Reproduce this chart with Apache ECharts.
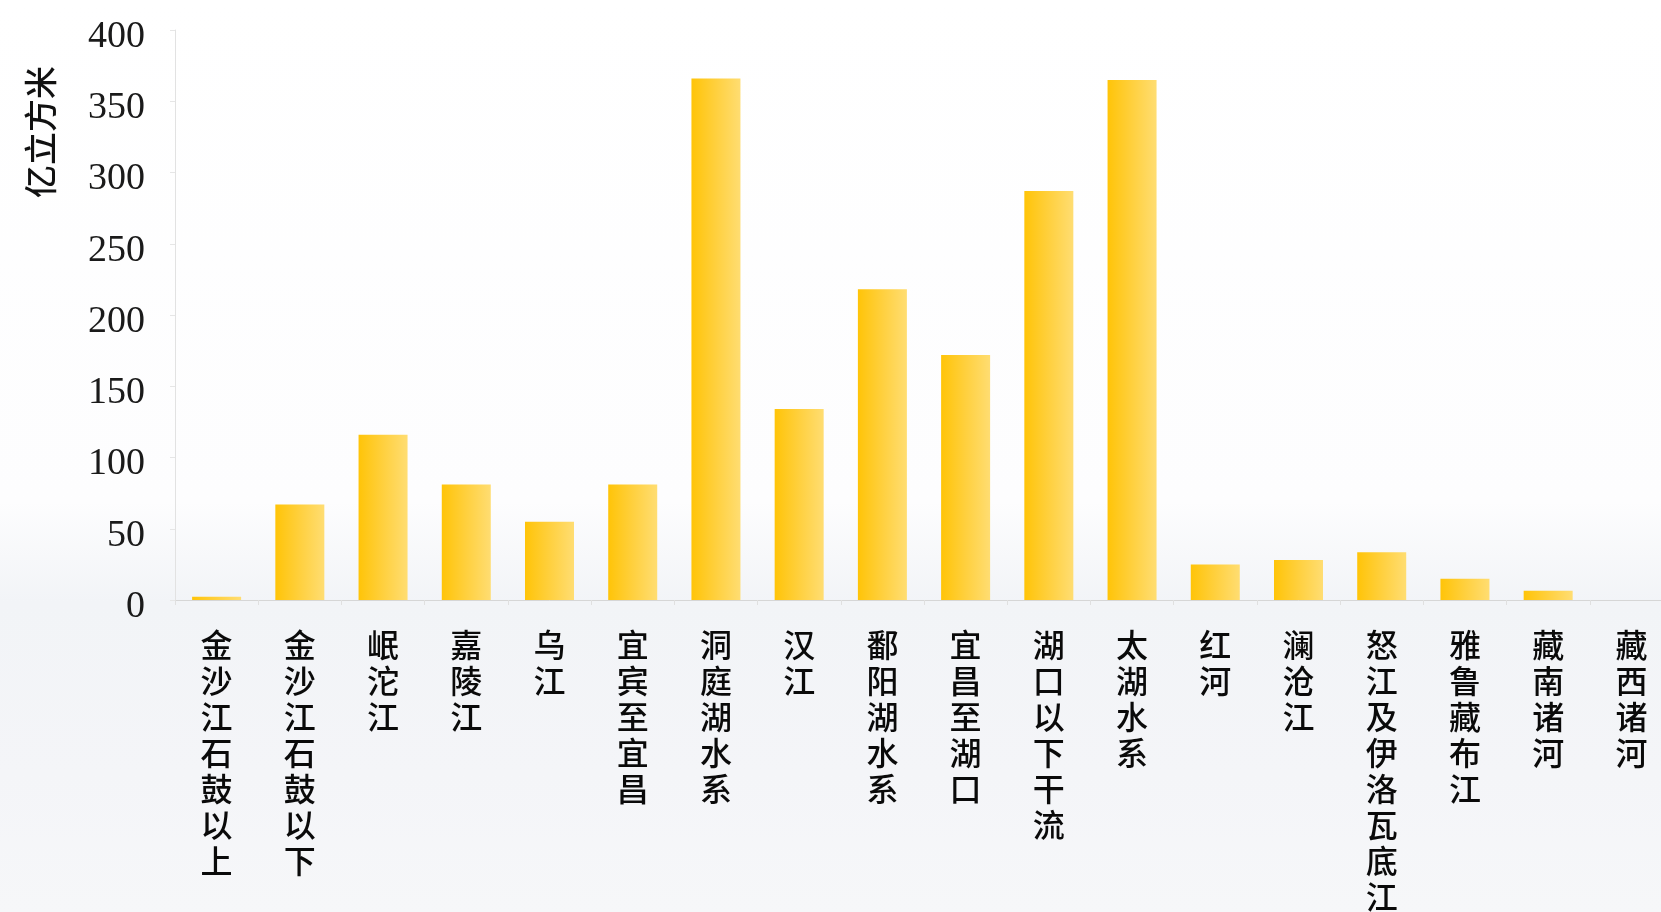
<!DOCTYPE html>
<html>
<head>
<meta charset="utf-8">
<script src="https://cdn.jsdelivr.net/npm/echarts@6/dist/echarts.min.js"></script>
<style>
  html, body { margin: 0; padding: 0; overflow: hidden; }
  #chart { width: 1673px; height: 912px; }
</style>
</head>
<body>
<div id="chart"></div>
<script>
// 流域分区（长江及西南诸河）
const basins = [
  '金沙江石鼓以上', '金沙江石鼓以下', '岷沱江', '嘉陵江', '乌江', '宜宾至宜昌',
  '洞庭湖水系', '汉江', '鄱阳湖水系', '宜昌至湖口', '湖口以下干流', '太湖水系',
  '红河', '澜沧江', '怒江及伊洛瓦底江', '雅鲁藏布江', '藏南诸河', '藏西诸河'
];
// 水量（亿立方米）
const volumes = [2.3, 67, 116, 81, 55, 81, 366, 134, 218, 172, 287, 365, 25, 28, 33.5, 15, 6.5, 0];
// 纵轴刻度
const yTicks = [0, 50, 100, 150, 200, 250, 300, 350, 400];
const yUnit = '亿立方米';

const chart = echarts.init(document.getElementById('chart'), null, { renderer: 'canvas' });

const cjk = "'Noto Sans CJK SC', 'Noto Sans', sans-serif";

chart.setOption({
  animation: false,
  backgroundColor: {
    type: 'linear', x: 0, y: 0, x2: 0, y2: 1,
    colorStops: [
      { offset: 0, color: '#ffffff' },
      { offset: 0.55, color: '#fdfdfe' },
      { offset: 0.66, color: '#f2f4f7' },
      { offset: 0.85, color: '#f4f5f8' },
      { offset: 1, color: '#f6f7f9' }
    ]
  },
  grid: { left: 175, top: 30, bottom: 312, right: 0, containLabel: false, outerBoundsMode: 'none' },
  graphic: [{
    type: 'text',
    x: 40, y: 132,
    rotation: Math.PI / 2,
    style: {
      text: yUnit,
      font: "500 33px 'Noto Sans CJK SC'",
      fill: '#111111',
      align: 'center',
      verticalAlign: 'middle'
    }
  }],
  xAxis: {
    type: 'category',
    data: basins,
    axisLine: { show: true, lineStyle: { color: '#d6d6d6', width: 1 } },
    axisTick: { show: true, length: 5, lineStyle: { color: '#e0e0e0' } },
    axisLabel: {
      interval: 0,
      margin: 27,
      color: '#0a0a0a',
      fontFamily: cjk,
      fontWeight: 500,
      fontSize: 32,
      lineHeight: 36,
      verticalAlign: 'top',
      formatter: v => v.split('').join('\n')
    }
  },
  yAxis: {
    type: 'value',
    min: yTicks[0],
    max: yTicks[yTicks.length - 1],
    interval: yTicks[1] - yTicks[0],
    axisLine: { show: true, lineStyle: { color: '#e2e2e2', width: 1 } },
    axisTick: { show: true, length: 5, lineStyle: { color: '#e6e6e6' } },
    splitLine: { show: false },
    axisLabel: {
      margin: 30,
      color: '#1a1a1a',
      fontFamily: "'Liberation Serif', 'DejaVu Serif', serif",
      fontSize: 38,
      verticalAlign: 'top',
      lineHeight: 14
    }
  },
  series: [{
    type: 'bar',
    data: volumes,
    barWidth: 49,
    itemStyle: {
      color: {
        type: 'linear', x: 0, y: 0, x2: 1, y2: 0,
        colorStops: [
          { offset: 0, color: '#ffc408' },
          { offset: 0.5, color: '#ffd03e' },
          { offset: 1, color: '#ffdd72' }
        ]
      }
    }
  }]
});
</script>
</body>
</html>
